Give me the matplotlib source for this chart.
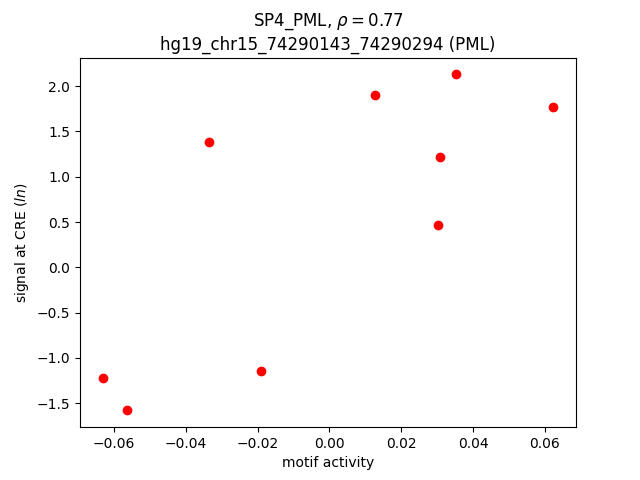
import matplotlib
matplotlib.use("Agg")
import matplotlib.pyplot as plt

# motif activity vs. signal at CRE
motif_activity = [-0.0632, -0.0565, -0.0336, -0.0191, 0.0128, 0.0303, 0.0309, 0.0353, 0.0624]
signal = [-1.22, -1.58, 1.38, -1.15, 1.90, 0.47, 1.22, 2.13, 1.77]

fig, ax = plt.subplots(figsize=(6.4, 4.8), dpi=100)
ax.scatter(motif_activity, signal, c="red")
ax.set_title("SP4_PML, $\\rho = 0.77$\nhg19_chr15_74290143_74290294 (PML)")
ax.set_xlabel("motif activity")
ax.set_ylabel("signal at CRE ($ln$)")

fig.savefig("out.png")
